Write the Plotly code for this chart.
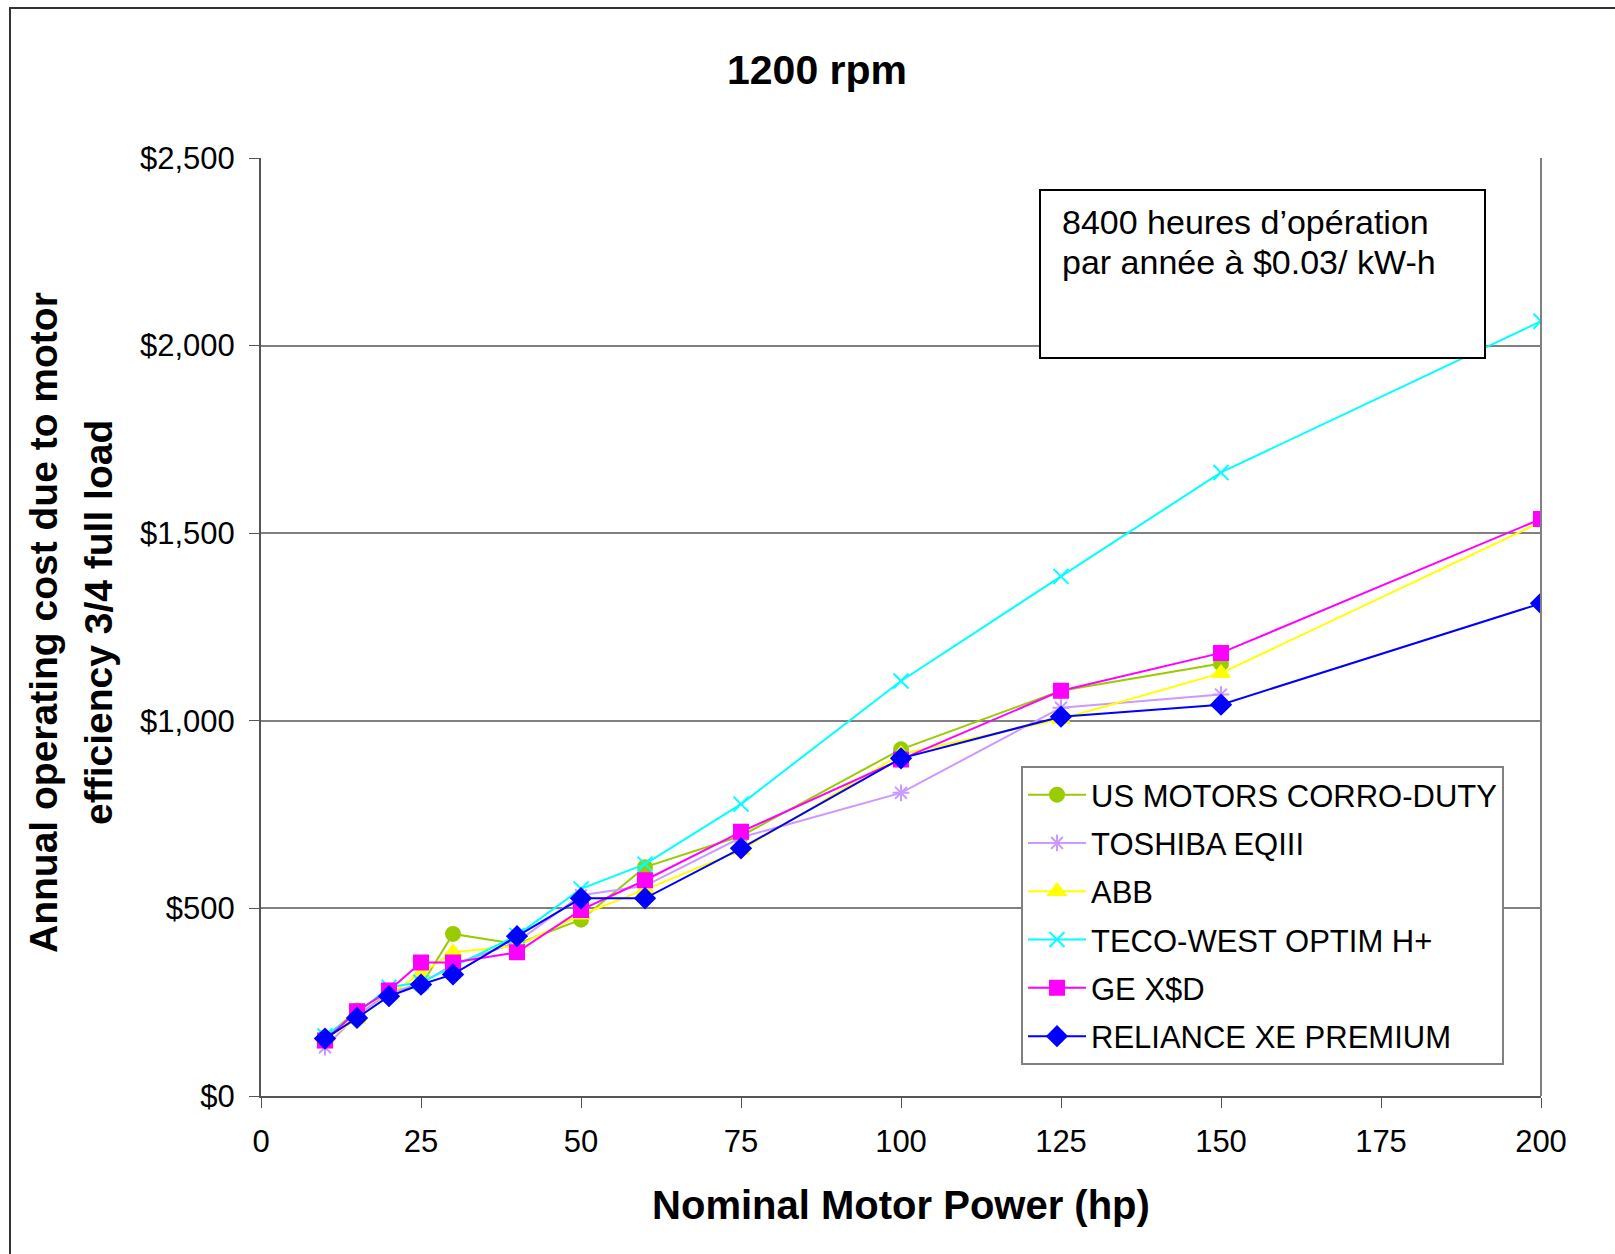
import plotly.graph_objects as go

hp = [10, 15, 20, 25, 30, 40, 50, 60, 75, 100, 125, 150, 200]

us_motors = [155, 228, 278, 294, 432, 405, 470, 610, 693, 924, 1080, 1153, None]
toshiba = [130, 215, 275, 300, 350, 410, 535, 560, 689, 808, 1035, 1070, None]
abb = [150, 205, 270, 326, 383, 400, 483, 550, 655, 911, 1005, 1127, 1530]
teco = [160, 220, 290, 303, 344, 428, 552, 618, 778, 1106, 1385, 1662, 2065]
ge = [148, 226, 281, 356, 356, 383, 496, 575, 704, 897, 1080, 1181, 1538]
reliance = [153, 208, 266, 297, 324, 426, 527, 527, 660, 900, 1011, 1043, 1313]

series_names = ["US MOTORS CORRO-DUTY", "TOSHIBA EQIII", "ABB",
                "TECO-WEST OPTIM H+", "GE X$D", "RELIANCE XE PREMIUM"]
series_values = [us_motors, toshiba, abb, teco, ge, reliance]
colors = ["#99CC00", "#CC99FF", "#FFFF00", "#00FFFF", "#FF00FF", "#0000FF"]
symbols = ["circle", "asterisk-open", "triangle-up", "x-thin-open", "square", "diamond"]
sizes = [14, 14, 15, 15, 14, 15]

FONT = "Liberation Sans, Arial, sans-serif"

fig = go.Figure()
for name, vals, col, sym, sz in zip(series_names, series_values, colors, symbols, sizes):
    fig.add_trace(go.Scatter(
        x=hp, y=vals, name=name, mode="lines+markers",
        line=dict(color=col, width=2),
        marker=dict(symbol=sym, size=sz, color=col,
                    line=dict(color=col, width=2)),
        legendgroup=name,
    ))

W, H = 1615, 1254
L, R, T, B = 261, 74, 158, 158
pw, ph = W - L - R, H - T - B

def px(x):
    return (x - L) / pw

def py(y):
    return (H - B - y) / ph

fig.update_layout(
    width=W, height=H,
    margin=dict(l=L, r=R, t=T, b=B),
    paper_bgcolor="white", plot_bgcolor="white",
    font=dict(family=FONT, color="black"),
    title=dict(text="<b>1200 rpm</b>", x=817 / W, xref="container", xanchor="center",
               y=1 - 70 / H, yref="container", yanchor="middle",
               font=dict(size=41, family=FONT, color="black")),
    xaxis=dict(range=[0, 200], dtick=25, tick0=0, showgrid=False,
               showline=True, linecolor="#555555", linewidth=2, mirror=False,
               ticks="outside", ticklen=10, tickcolor="#555555", tickwidth=1,
               ticklabelstandoff=7,
               tickfont=dict(size=31, family=FONT),
               title=dict(text="<b>Nominal Motor Power (hp)</b>",
                          font=dict(size=40, family=FONT), standoff=33),
               zeroline=False),
    yaxis=dict(range=[0, 2500], dtick=500, tick0=0, showgrid=True,
               gridcolor="#808080", gridwidth=1.5,
               showline=True, linecolor="#555555", linewidth=2,
               ticks="outside", ticklen=10, tickcolor="#555555", tickwidth=1,
               ticklabelstandoff=8,
               tickformat="$,.0f", tickfont=dict(size=31, family=FONT),
               zeroline=False),
    legend=dict(x=px(1021), y=py(766), xanchor="left", yanchor="top",
                bgcolor="white", bordercolor="#808080", borderwidth=2,
                font=dict(size=31, family=FONT), tracegroupgap=5,
                itemwidth=58, traceorder="grouped"),
    showlegend=True,
)

# right border of plot area
fig.add_shape(type="line", xref="paper", yref="paper", x0=1, x1=1, y0=0, y1=1,
              line=dict(color="#808080", width=2))

# outer chart frame
fig.add_shape(type="rect", xref="paper", yref="paper",
              x0=px(10), x1=px(1640), y0=py(1280), y1=py(8),
              line=dict(color="#333333", width=2), fillcolor="rgba(0,0,0,0)")

# note box
fig.add_shape(type="rect", xref="paper", yref="paper",
              x0=px(1040), x1=px(1485), y0=py(358), y1=py(190),
              line=dict(color="black", width=2), fillcolor="white", layer="above")
note_lines = ["8400 heures d’opération", "par année à $0.03/ kW-h"]
for txt, yc in zip(note_lines, [222, 262]):
    fig.add_annotation(xref="paper", yref="paper", x=px(1060), y=py(yc),
                       xanchor="left", yanchor="middle", align="left", showarrow=False,
                       text=txt, font=dict(size=34, family=FONT, color="black"))

# y-axis title lines
fig.add_annotation(xref="paper", yref="paper", x=px(43), y=py(623),
                   xanchor="center", yanchor="middle", textangle=-90, showarrow=False,
                   text="<b>Annual operating cost due to motor</b>",
                   font=dict(size=39, family=FONT, color="black"))
fig.add_annotation(xref="paper", yref="paper", x=px(98), y=py(623),
                   xanchor="center", yanchor="middle", textangle=-90, showarrow=False,
                   text="<b>efficiency 3/4 full load</b>",
                   font=dict(size=39, family=FONT, color="black"))

fig.write_html("out.html")
